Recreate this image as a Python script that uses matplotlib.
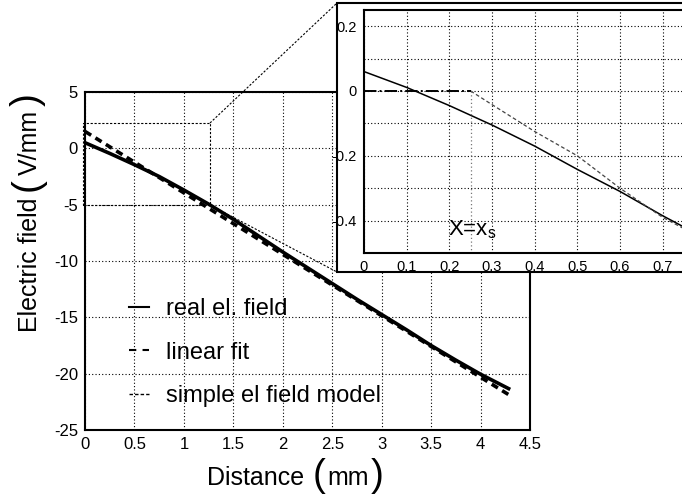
import matplotlib
matplotlib.use("Agg")
import matplotlib.pyplot as plt
from matplotlib.lines import Line2D
from matplotlib.patches import Rectangle

plt.rcParams["font.family"] = ["Liberation Sans", "DejaVu Sans"]
plt.rcParams["axes.unicode_minus"] = False

# ---- data -------------------------------------------------------------
# real electric field along the gap (main plot)
dist_mm = [0, 0.25, 0.5, 0.75, 1.0, 1.25, 1.5, 1.75, 2.0, 2.25, 2.5,
           2.75, 3.0, 3.25, 3.5, 3.75, 4.0, 4.3]
field_real = [0.5, -0.45, -1.45, -2.5, -3.7, -4.95, -6.3, -7.75, -9.2,
              -10.6, -12.0, -13.4, -14.75, -16.1, -17.5, -18.8, -20.05, -21.4]

# linear fit end points
fit_x = [0.0, 4.3]
fit_y = [1.5, -21.95]

# close-up near the origin (inset)
zoom_x = [0, 0.1, 0.2, 0.3, 0.4, 0.5, 0.6, 0.7, 0.75]
zoom_real = [0.06, 0.011, -0.045, -0.105, -0.17, -0.242, -0.31, -0.385, -0.42]
x_s = 0.25
model_x = [0, x_s, 0.3, 0.4, 0.5, 0.6, 0.7, 0.75]
model_y = [0, 0, -0.042, -0.125, -0.2, -0.3, -0.39, -0.425]

main_xticks = [0, 0.5, 1, 1.5, 2, 2.5, 3, 3.5, 4, 4.5]
main_xlabels = ["0", "0.5", "1", "1.5", "2", "2.5", "3", "3.5", "4", "4.5"]
main_yticks = [5, 0, -5, -10, -15, -20, -25]
main_ylabels = ["5", "0", "-5", "-10", "-15", "-20", "-25"]
inset_xticks = [0, 0.1, 0.2, 0.3, 0.4, 0.5, 0.6, 0.7]
inset_xlabels = ["0", "0.1", "0.2", "0.3", "0.4", "0.5", "0.6", "0.7"]
inset_yticks = [0.2, 0.1, 0, -0.1, -0.2, -0.3, -0.4]
inset_ylabels = ["0.2", "", "0", "", "-0.2", "", "-0.4"]

labels = ["real el. field", "linear fit", "simple el field model"]

# ---- figure -----------------------------------------------------------
W, H = 682, 495
fig = plt.figure(figsize=(W / 100, H / 100), dpi=100)


def fx(px):
    return px / W


def fy(py):
    return 1 - py / H


grid_kw = dict(color="black", linestyle=(0, (1, 2)), linewidth=0.8)

ax = fig.add_axes([fx(85), fy(430), fx(530) - fx(85), fy(92) - fy(430)])
ax.set_zorder(0)
ax.set_xlim(0, 4.5)
ax.set_ylim(-25, 5)
ax.set_xticks(main_xticks, main_xlabels)
ax.set_yticks(main_yticks, main_ylabels)
ax.tick_params(length=0, labelsize=12, pad=5)
ax.grid(True, **grid_kw)
for s in ax.spines.values():
    s.set_linewidth(1.5)

ax.plot(dist_mm, field_real, color="black", lw=2.6, solid_capstyle="butt")
ax.plot(fit_x, fit_y, color="black", lw=2.6, dashes=(2, 1.4))

# zoom window
ax.add_patch(Rectangle((-0.02, -5), 1.285, 7.25, fill=False, ec="black",
                       lw=0.8, linestyle=(0, (2, 1.5)), clip_on=False))

# legend
handles = [Line2D([], [], color="black", lw=1.5),
           Line2D([], [], color="black", lw=1.5, dashes=(3.5, 3)),
           Line2D([], [], color="black", lw=1.0, dashes=(2.5, 1.5))]
ax.legend(handles, labels, loc="upper left", bbox_to_anchor=(fx(129), fy(298)),
          bbox_transform=fig.transFigure, frameon=False, fontsize=17,
          handlelength=0.85, handletextpad=0.7, labelspacing=0.92,
          borderpad=0, borderaxespad=0)

# axis labels with tall brackets
lab = 18
par = 28
fig.text(fx(256), fy(485), "Distance", ha="center", va="baseline", fontsize=lab)
fig.text(fx(319), fy(486), "(", ha="center", va="baseline", fontsize=par)
fig.text(fx(348), fy(485), "mm", ha="center", va="baseline", fontsize=lab)
fig.text(fx(377), fy(486), ")", ha="center", va="baseline", fontsize=par)

yl = dict(rotation=90, rotation_mode="anchor", ha="center", va="baseline")
fig.text(fx(37), fy(265), "Electric field", fontsize=lab, **yl)
fig.text(fx(38), fy(185), "(", fontsize=par, **yl)
fig.text(fx(37), fy(142), "V/mm", fontsize=lab, **yl)
fig.text(fx(38), fy(100), ")", fontsize=par, **yl)

# connectors from zoom window to inset frame
fig.add_artist(Line2D([fx(210), fx(337)], [fy(123), fy(3)], color="black",
                      lw=0.8, linestyle=(0, (2, 1.5)), zorder=0.5))
fig.add_artist(Line2D([fx(210), fx(337)], [fy(205), fy(272)], color="black",
                      lw=0.8, linestyle=(0, (2, 1.5)), zorder=0.5))

# inset frame
fig.add_artist(Rectangle((fx(337), fy(272)), 1.0, fy(3) - fy(272),
                         transform=fig.transFigure, fc="white", ec="black",
                         lw=1.5, zorder=1))

# ---- inset ------------------------------------------------------------
axi = fig.add_axes([fx(364), fy(253), fx(684) - fx(364), fy(10) - fy(253)])
axi.set_zorder(2)
axi.set_xlim(0, 0.75)
axi.set_ylim(-0.5, 0.25)
axi.set_xticks(inset_xticks, inset_xlabels)
axi.set_yticks(inset_yticks, inset_ylabels)
axi.tick_params(length=0, labelsize=10.5, pad=5)
axi.grid(True, **grid_kw)
axi.spines["right"].set_visible(False)
for k in ("left", "top", "bottom"):
    axi.spines[k].set_linewidth(1.5)

axi.plot(zoom_x, zoom_real, color="black", lw=1.1)
axi.plot(model_x[1:], model_y[1:], color="#444444", lw=0.9, dashes=(3, 2))
axi.plot(model_x[:2], model_y[:2], color="black", lw=1.4, linestyle="-.")
axi.plot([x_s, x_s], [0, -0.5], color="#777777", lw=0.9,
         linestyle=(0, (1, 2)))
axi.text(0.197, -0.447, r"X=x$_\mathregular{s}$", fontsize=16,
         va="baseline", ha="left")

fig.savefig("out.png", dpi=100)
